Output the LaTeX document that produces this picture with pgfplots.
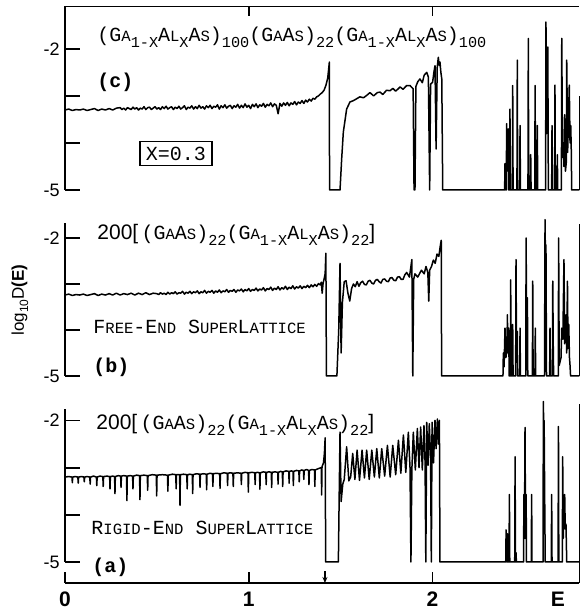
\documentclass[border=0pt]{standalone}
\usepackage{pgfplots}
\pgfplotsset{compat=1.18}
\usepackage{fontspec}
\setmainfont{Liberation Sans}
\newfontfamily\mono{Liberation Mono}
\usetikzlibrary{arrows.meta}
\newcommand{\SC}[1]{{\fontsize{7.8}{8}\selectfont #1}}
\newcommand{\Sb}[1]{\raisebox{-0.3em}{\fontsize{7.6}{8}\selectfont #1}}
\pgfplotsset{
  panel/.style={scale only axis, width=257.2pt, xmin=0, xmax=2.80, ymin=-5,
    anchor=south west, clip=false,
    axis y line*=left, axis line style={line width=0.9pt,-},
    ytick={-5,-4,-3,-2}, yticklabels={-5,,,-2},
    tick align=inside, major tick length=7.5pt,
    tick style={line width=0.9pt, black},
    yticklabel style={font=\fontsize{9}{10}\selectfont, inner sep=1pt, xshift=-1.5pt}},
  dat/.style={black, line width=0.75pt, mark=none, line join=round}
}
\begin{document}
\begin{tikzpicture}
\path[use as bounding box] (0,0) rectangle (290.5pt,305.5pt);
% ---------------- panel (c)
\begin{axis}[panel, at={(32.5pt,210.5pt)}, height=91.75pt, ymax=-1.10,
  axis x line*=top, xtick={1,2}, xticklabels={,},
  xtick style={/pgfplots/major tick length=5pt}]
\addplot[dat] coordinates {(0.00,-3.30)(0.02,-3.28)(0.04,-3.31)(0.06,-3.29)(0.08,-3.30)(0.10,-3.28)(0.12,-3.31)(0.14,-3.29)(0.16,-3.27)(0.18,-3.31)(0.20,-3.28)(0.22,-3.30)(0.24,-3.27)(0.26,-3.30)(0.28,-3.26)
(0.30,-3.25)(0.31,-3.29)(0.32,-3.26)(0.33,-3.30)(0.34,-3.25)(0.35,-3.27)(0.36,-3.29)(0.37,-3.24)(0.38,-3.28)(0.39,-3.25)(0.40,-3.30)(0.41,-3.26)(0.42,-3.28)(0.43,-3.23)(0.44,-3.29)(0.45,-3.25)(0.46,-3.24)(0.47,-3.29)(0.48,-3.26)(0.49,-3.23)(0.50,-3.28)(0.51,-3.25)(0.52,-3.29)(0.53,-3.23)(0.54,-3.27)(0.55,-3.22)(0.56,-3.28)(0.57,-3.25)(0.58,-3.23)(0.59,-3.29)(0.60,-3.24)(0.61,-3.27)(0.62,-3.22)(0.63,-3.28)(0.64,-3.25)(0.65,-3.21)(0.66,-3.29)(0.67,-3.24)(0.68,-3.26)(0.69,-3.21)(0.70,-3.28)(0.71,-3.23)(0.72,-3.27)(0.73,-3.20)(0.74,-3.26)(0.75,-3.23)(0.76,-3.28)(0.77,-3.21)(0.78,-3.25)(0.79,-3.20)(0.80,-3.27)(0.81,-3.22)(0.82,-3.24)(0.83,-3.19)(0.84,-3.28)(0.85,-3.21)(0.86,-3.25)(0.87,-3.19)(0.88,-3.26)(0.89,-3.22)(0.90,-3.20)(0.91,-3.27)(0.92,-3.21)(0.93,-3.24)(0.94,-3.18)(0.95,-3.26)(0.96,-3.20)(0.97,-3.25)(0.98,-3.17)(0.99,-3.24)(1.00,-3.20)(1.01,-3.27)(1.02,-3.18)(1.03,-3.23)(1.04,-3.17)(1.05,-3.25)(1.06,-3.19)(1.07,-3.22)(1.08,-3.16)(1.09,-3.24)(1.10,-3.18)(1.11,-3.21)(1.12,-3.15)(1.13,-3.23)(1.14,-3.17)(1.15,-3.20)(1.16,-3.38)(1.17,-3.16)(1.18,-3.22)(1.19,-3.15)(1.20,-3.20)(1.21,-3.14)(1.22,-3.21)(1.23,-3.15)(1.24,-3.18)(1.25,-3.12)(1.26,-3.19)(1.27,-3.13)(1.28,-3.16)(1.29,-3.10)(1.30,-3.16)(1.31,-3.09)(1.32,-3.13)(1.33,-3.07)(1.34,-3.11)(1.35,-3.05)(1.36,-3.07)(1.37,-3.02)(1.38,-3.00)(1.39,-2.96)(1.40,-2.93)(1.41,-2.88)(1.42,-2.78)(1.43,-2.62)(1.436,-2.40)(1.439,-2.28)(1.440,-5)
(1.497,-5)(1.506,-4.34)(1.515,-3.77)(1.533,-3.28)(1.551,-3.13)(1.570,-3.10)(1.588,-3.06)(1.605,-3.02)(1.625,-3.04)(1.642,-2.99)(1.66,-2.93)(1.68,-3.00)(1.70,-2.93)(1.715,-2.92)(1.73,-2.97)(1.75,-2.88)(1.769,-2.89)(1.785,-2.84)(1.80,-2.90)(1.824,-2.81)(1.84,-2.86)(1.86,-2.78)(1.878,-2.78)(1.895,-2.85)(1.900,-5)(1.905,-5)(1.910,-2.80)(1.920,-2.70)(1.932,-2.64)(1.945,-2.72)(1.955,-2.56)(1.969,-2.50)(1.978,-2.60)(1.985,-5)(1.990,-2.75)(2.001,-2.71)(2.008,-2.50)(2.014,-2.36)(2.020,-4.13)(2.026,-2.40)(2.032,-2.18)(2.037,-2.35)(2.041,-2.28)(2.046,-2.50)(2.051,-2.64)(2.056,-5)
(2.393,-5)(2.395,-4.44)(2.398,-5)(2.402,-5)(2.404,-3.59)(2.406,-4.6)(2.411,-4.5)(2.413,-3.70)(2.415,-5)(2.420,-5)(2.422,-3.28)(2.424,-5)(2.435,-5)(2.437,-2.78)(2.439,-5)(2.460,-5)(2.462,-2.24)(2.464,-5)(2.475,-5)(2.477,-3.63)(2.479,-5)(2.520,-5)(2.522,-1.78)(2.524,-5)(2.533,-5)(2.535,-4.25)(2.537,-5)(2.557,-5)(2.559,-2.78)(2.561,-5)(2.569,-5)(2.571,-3.63)(2.573,-5)(2.616,-5)(2.618,-1.43)(2.622,-3.8)(2.625,-3.6)(2.628,-1.96)(2.631,-5)(2.649,-5)(2.651,-3.63)(2.653,-5)(2.665,-5)(2.667,-2.77)(2.669,-5)(2.678,-5)(2.680,-4.25)(2.682,-5)(2.702,-5)(2.704,-1.78)(2.708,-4.3)(2.712,-4.0)(2.716,-4.5)(2.720,-3.40)(2.724,-4.6)(2.729,-4.4)(2.731,-2.24)(2.736,-4.2)(2.745,-2.77)(2.749,-4.0)(2.753,-3.63)(2.756,-4.2)(2.758,-5)(2.80,-5)};
\draw[line width=0.75pt] (axis cs:2.80,-5) -- (axis cs:2.80,-3.0);
\end{axis}
% ---------------- panel (b)
\begin{axis}[panel, at={(32.5pt,117.5pt)}, height=76.6pt, ymax=-1.67,
  axis x line=none]
\addplot[dat] coordinates {(0.00,-3.24)(0.02,-3.22)(0.04,-3.25)(0.06,-3.23)(0.08,-3.24)(0.10,-3.22)(0.12,-3.25)(0.14,-3.23)(0.16,-3.21)(0.18,-3.25)(0.20,-3.22)(0.22,-3.24)(0.24,-3.21)(0.26,-3.24)(0.28,-3.20)(0.30,-3.24)(0.32,-3.21)(0.34,-3.23)(0.36,-3.20)(0.38,-3.24)(0.40,-3.20)(0.42,-3.23)(0.44,-3.19)(0.46,-3.23)(0.48,-3.20)
(0.50,-3.21)(0.51,-3.23)(0.52,-3.19)(0.53,-3.22)(0.54,-3.20)(0.55,-3.23)(0.56,-3.18)(0.57,-3.22)(0.58,-3.19)(0.59,-3.21)(0.60,-3.17)(0.61,-3.22)(0.62,-3.19)(0.63,-3.20)(0.64,-3.16)(0.65,-3.22)(0.66,-3.18)(0.67,-3.20)(0.68,-3.16)(0.69,-3.21)(0.70,-3.17)(0.71,-3.19)(0.72,-3.15)(0.73,-3.21)(0.74,-3.17)(0.75,-3.19)(0.76,-3.14)(0.77,-3.20)(0.78,-3.16)(0.79,-3.18)(0.80,-3.14)(0.81,-3.20)(0.82,-3.15)(0.83,-3.18)(0.84,-3.13)(0.85,-3.19)(0.86,-3.15)(0.87,-3.17)(0.88,-3.12)(0.89,-3.18)(0.90,-3.14)(0.91,-3.16)(0.92,-3.12)(0.93,-3.18)(0.94,-3.13)(0.95,-3.15)(0.96,-3.11)(0.97,-3.17)(0.98,-3.12)(0.99,-3.15)(1.00,-3.10)(1.01,-3.16)(1.02,-3.12)(1.03,-3.14)(1.04,-3.09)(1.05,-3.15)(1.06,-3.11)(1.07,-3.13)(1.08,-3.08)(1.09,-3.15)(1.10,-3.10)(1.11,-3.12)(1.12,-3.07)(1.13,-3.14)(1.14,-3.09)(1.15,-3.12)(1.16,-3.06)(1.17,-3.13)(1.18,-3.08)(1.19,-3.11)(1.20,-3.05)(1.21,-3.12)(1.22,-3.07)(1.23,-3.10)(1.24,-3.04)(1.25,-3.11)(1.26,-3.06)(1.27,-3.09)(1.28,-3.04)(1.29,-3.10)(1.30,-3.05)(1.31,-3.08)(1.32,-3.03)(1.33,-3.08)(1.34,-3.02)(1.35,-3.06)(1.36,-3.01)(1.37,-3.05)(1.38,-2.99)(1.39,-3.02)(1.395,-2.96)(1.400,-3.20)(1.405,-2.98)(1.410,-2.90)(1.416,-2.78)(1.420,-2.33)(1.423,-5)
(1.480,-5)(1.490,-4.0)(1.497,-2.55)(1.503,-4.50)(1.510,-3.40)(1.520,-2.95)(1.530,-2.93)(1.540,-3.20)(1.550,-3.37)(1.560,-3.10)(1.570,-3.00)(1.580,-3.06)(1.590,-2.95)(1.60,-3.05)(1.61,-2.97)(1.62,-2.94)(1.63,-3.01)(1.64,-3.02)(1.65,-2.94)(1.66,-2.92)(1.67,-2.98)(1.68,-3.00)(1.69,-2.92)(1.70,-2.90)(1.71,-2.95)(1.72,-2.98)(1.73,-2.90)(1.74,-2.89)(1.75,-2.94)(1.76,-2.95)(1.77,-2.87)(1.78,-2.86)(1.79,-2.92)(1.80,-2.93)(1.81,-2.85)(1.82,-2.84)(1.83,-2.90)(1.84,-2.90)(1.85,-2.80)(1.86,-2.75)(1.875,-2.85)(1.888,-2.47)(1.893,-5)(1.898,-2.90)(1.905,-2.78)(1.92,-2.85)(1.94,-2.70)(1.955,-2.78)(1.965,-2.62)(1.975,-2.75)(1.980,-3.37)(1.985,-2.70)(1.995,-2.62)(2.005,-2.48)(2.015,-2.55)(2.025,-2.35)(2.035,-2.40)(2.042,-2.19)(2.048,-2.05)(2.050,-5)
(2.384,-5)(2.386,-4.50)(2.390,-4.8)(2.395,-3.96)(2.400,-4.6)(2.406,-4.4)(2.408,-3.67)(2.411,-4.5)(2.415,-3.96)(2.418,-5)(2.424,-5)(2.426,-2.91)(2.428,-5)(2.435,-5)(2.437,-3.88)(2.439,-5)(2.453,-5)(2.455,-2.47)(2.458,-4.7)(2.462,-4.03)(2.464,-5)(2.475,-5)(2.477,-3.96)(2.479,-5)(2.508,-5)(2.510,-2.00)(2.513,-4.5)(2.517,-3.30)(2.519,-5)(2.544,-5)(2.546,-2.94)(2.548,-5)(2.558,-5)(2.560,-3.96)(2.562,-5)(2.610,-5)(2.613,-1.60)(2.615,-2.4)(2.618,-2.15)(2.621,-5)(2.638,-5)(2.640,-3.96)(2.642,-5)(2.653,-5)(2.655,-2.94)(2.658,-4.54)(2.660,-5)(2.685,-5)(2.687,-2.00)(2.690,-4.77)(2.700,-4.6)(2.704,-3.96)(2.710,-4.2)(2.716,-2.47)(2.720,-4.3)(2.727,-3.67)(2.731,-4.5)(2.735,-2.94)(2.738,-4.4)(2.742,-3.88)(2.746,-4.6)(2.749,-4.77)(2.752,-5)(2.80,-5)};
\draw[line width=0.75pt] (axis cs:2.80,-5) -- (axis cs:2.80,-1.70);
\end{axis}
% ---------------- panel (a)
\begin{axis}[panel, at={(32.5pt,24.5pt)}, height=76.7pt, ymax=-1.75,
  axis x line=none]
\addplot[dat] coordinates {(0.00,-3.20)(0.02,-3.19)(0.038,-3.20)(0.040,-3.32)(0.042,-3.20)(0.056,-3.19)(0.070,-3.20)(0.072,-3.33)(0.074,-3.20)(0.09,-3.19)(0.103,-3.20)(0.105,-3.30)(0.107,-3.20)(0.12,-3.19)(0.135,-3.20)(0.137,-3.35)(0.139,-3.20)(0.155,-3.18)(0.171,-3.20)(0.173,-3.38)(0.175,-3.20)(0.19,-3.18)(0.206,-3.19)(0.208,-3.40)(0.210,-3.19)(0.228,-3.18)(0.243,-3.19)(0.245,-3.45)(0.247,-3.19)(0.26,-3.18)(0.270,-3.19)(0.272,-3.55)(0.274,-3.19)(0.29,-3.17)(0.303,-3.18)(0.305,-3.42)(0.307,-3.18)(0.32,-3.17)(0.335,-3.18)(0.337,-3.70)(0.339,-3.18)(0.355,-3.17)(0.368,-3.18)(0.370,-3.45)(0.372,-3.18)(0.39,-3.16)(0.406,-3.17)(0.408,-3.68)(0.410,-3.17)(0.43,-3.16)(0.448,-3.17)(0.450,-3.48)(0.452,-3.17)(0.475,-3.15)(0.497,-3.16)(0.499,-3.60)(0.501,-3.16)(0.53,-3.15)(0.558,-3.16)(0.560,-3.50)(0.562,-3.16)(0.585,-3.14)(0.603,-3.15)(0.605,-3.45)(0.607,-3.15)(0.624,-3.15)(0.626,-3.80)(0.628,-3.15)(0.645,-3.14)(0.663,-3.15)(0.665,-3.45)(0.667,-3.15)(0.68,-3.14)(0.693,-3.15)(0.695,-3.55)(0.697,-3.15)(0.715,-3.13)(0.733,-3.14)(0.735,-3.42)(0.737,-3.14)(0.755,-3.13)(0.769,-3.14)(0.771,-3.47)(0.773,-3.14)(0.79,-3.12)(0.803,-3.13)(0.805,-3.40)(0.807,-3.13)(0.825,-3.12)(0.842,-3.13)(0.844,-3.44)(0.846,-3.13)(0.865,-3.11)(0.883,-3.12)(0.885,-3.38)(0.887,-3.12)(0.90,-3.11)(0.914,-3.12)(0.916,-3.40)(0.918,-3.12)(0.94,-3.11)(0.958,-3.12)(0.960,-3.36)(0.962,-3.12)(0.98,-3.10)(0.996,-3.11)(0.998,-3.52)(1.000,-3.11)(1.018,-3.10)(1.033,-3.11)(1.035,-3.36)(1.037,-3.11)(1.048,-3.10)(1.059,-3.11)(1.061,-3.46)(1.063,-3.11)(1.08,-3.09)(1.093,-3.10)(1.095,-3.36)(1.097,-3.10)(1.11,-3.09)(1.123,-3.10)(1.125,-3.42)(1.127,-3.10)(1.143,-3.09)(1.158,-3.10)(1.160,-3.35)(1.162,-3.10)(1.173,-3.08)(1.183,-3.09)(1.185,-3.40)(1.187,-3.09)(1.203,-3.07)(1.218,-3.08)(1.220,-3.33)(1.222,-3.08)(1.232,-3.07)(1.241,-3.08)(1.243,-3.38)(1.245,-3.08)(1.26,-3.06)(1.273,-3.07)(1.275,-3.30)(1.277,-3.07)(1.288,-3.05)(1.298,-3.06)(1.300,-3.25)(1.302,-3.06)(1.315,-3.04)(1.326,-3.06)(1.328,-3.36)(1.330,-3.06)(1.345,-3.04)(1.358,-3.05)(1.360,-3.40)(1.362,-3.05)(1.38,-3.02)(1.395,-3.00)(1.397,-3.58)(1.399,-2.98)(1.407,-2.90)(1.412,-2.70)(1.416,-2.37)(1.419,-5)
(1.488,-5)(1.492,-3.75)(1.497,-2.25)(1.503,-3.72)(1.512,-3.35)(1.520,-3.25)(1.533,-2.56)(1.545,-3.28)(1.555,-3.20)(1.566,-2.70)(1.578,-3.25)(1.590,-2.63)(1.603,-3.27)(1.617,-2.63)(1.630,-3.22)(1.642,-2.63)(1.656,-3.25)(1.670,-2.63)(1.684,-3.20)(1.697,-2.60)(1.711,-3.22)(1.724,-2.60)(1.740,-3.18)(1.755,-2.53)(1.770,-3.20)(1.784,-2.53)(1.800,-3.15)(1.815,-2.42)(1.828,-3.12)(1.842,-2.31)(1.855,-3.10)(1.869,-2.25)(1.878,-3.00)(1.883,-5)(1.888,-3.05)(1.896,-2.25)(1.907,-3.05)(1.918,-2.17)(1.927,-3.00)(1.936,-2.14)(1.945,-3.05)(1.954,-2.11)(1.960,-2.90)(1.964,-5)(1.969,-2.04)(1.976,-2.95)(1.983,-2.07)(1.990,-2.80)(1.994,-5)(1.998,-2.04)(2.006,-2.90)(2.014,-2.00)(2.020,-2.60)(2.027,-1.97)(2.033,-2.50)(2.038,-2.00)(2.041,-5)
(2.399,-5)(2.401,-4.32)(2.404,-5)(2.406,-5)(2.408,-4.40)(2.410,-5)(2.417,-5)(2.419,-3.57)(2.421,-5)(2.448,-5)(2.450,-2.77)(2.452,-5)(2.453,-5)(2.455,-4.8)(2.457,-5)(2.496,-5)(2.498,-3.57)(2.501,-4.5)(2.504,-2.15)(2.507,-4.5)(2.510,-3.57)(2.512,-5)(2.538,-5)(2.540,-3.57)(2.542,-5)(2.602,-5)(2.604,-1.60)(2.606,-2.4)(2.608,-2.00)(2.611,-3.6)(2.614,-5)(2.647,-5)(2.649,-3.57)(2.651,-5)(2.684,-5)(2.686,-2.13)(2.688,-5)(2.707,-5)(2.709,-2.77)(2.712,-4.5)(2.716,-4.0)(2.720,-3.57)(2.723,-4.3)(2.727,-4.2)(2.731,-5)(2.80,-5)};
\draw[line width=0.75pt] (axis cs:2.80,-5.45) -- (axis cs:2.80,-1.66);
\end{axis}
% ---------------- bottom energy axis
\begin{axis}[scale only axis, width=257.2pt, height=5.5pt, at={(32.5pt,14pt)},
  anchor=south west, xmin=0, xmax=2.80, ymin=0, ymax=1, clip=false,
  axis x line*=bottom, axis y line=none, axis line style={line width=0.9pt,-},
  tick style={line width=0.9pt, black}, tick align=inside, major tick length=5.5pt,
  xtick={0,1,2}, xticklabels={0,1,2},
  xticklabel style={font=\bfseries\fontsize{10.5}{12}\selectfont, yshift=-1pt},
  extra x ticks={2.683}, extra x tick labels={E},
  extra x tick style={major tick length=0pt}]
\addplot[draw=none, mark=none] coordinates {(0,0)(2.8,0)};
\draw[-{Stealth[length=3pt,width=2.5pt]}, line width=0.6pt] (axis cs:1.415,1.05) -- (axis cs:1.415,0);
\end{axis}
% ---------------- texts
\node[anchor=base west, inner sep=0] at (48.5pt,284.5pt) {\mono\fontsize{10}{12}\selectfont (G\SC{A}\Sb{1-X}A\SC{L}\Sb{X}A\SC{S})\Sb{100}(G\SC{A}A\SC{S})\Sb{22}(G\SC{A}\Sb{1-X}A\SC{L}\Sb{X}A\SC{S})\Sb{100}};
\node[anchor=west, inner sep=0] at (48.5pt,264.5pt) {\mono\bfseries\fontsize{10}{12}\selectfont (c)};
\node[draw, line width=0.7pt, inner xsep=3pt, inner ysep=2.5pt] at (88pt,228.75pt) {\mono\fontsize{10}{12}\selectfont X=0.3};
\node[anchor=base west, inner sep=0] at (48.5pt,185.5pt) {{\fontsize{10.5}{12}\selectfont 200[}{\mono\fontsize{10}{12}\selectfont\,(G\SC{A}A\SC{S})\Sb{22}(G\SC{A}\Sb{1-X}A\SC{L}\Sb{X}A\SC{S})\Sb{22}}{\fontsize{10.5}{12}\selectfont ]}};
\node[anchor=west, inner sep=0] at (46.5pt,142pt) {\mono\fontsize{10}{12}\selectfont F\SC{REE}-E\SC{ND} S\SC{UPER}L\SC{ATTICE}};
\node[anchor=west, inner sep=0] at (46.5pt,122pt) {\mono\bfseries\fontsize{10}{12}\selectfont (b)};
\node[anchor=base west, inner sep=0] at (48pt,90.5pt) {{\fontsize{10.5}{12}\selectfont 200[}{\mono\fontsize{10}{12}\selectfont\,(G\SC{A}A\SC{S})\Sb{22}(G\SC{A}\Sb{1-X}A\SC{L}\Sb{X}A\SC{S})\Sb{22}}{\fontsize{10.5}{12}\selectfont ]}};
\node[anchor=west, inner sep=0] at (45.5pt,41.5pt) {\mono\fontsize{10}{12}\selectfont R\SC{IGID}-E\SC{ND} S\SC{UPER}L\SC{ATTICE}};
\node[anchor=west, inner sep=0] at (46pt,22pt) {\mono\bfseries\fontsize{10}{12}\selectfont (a)};
\node[rotate=90, inner sep=0] at (10pt,155.5pt) {\fontsize{8.5}{10}\selectfont log\raisebox{-0.25em}{\fontsize{6}{7}\selectfont 10}D\textbf{(E)}};
\end{tikzpicture}
\end{document}
